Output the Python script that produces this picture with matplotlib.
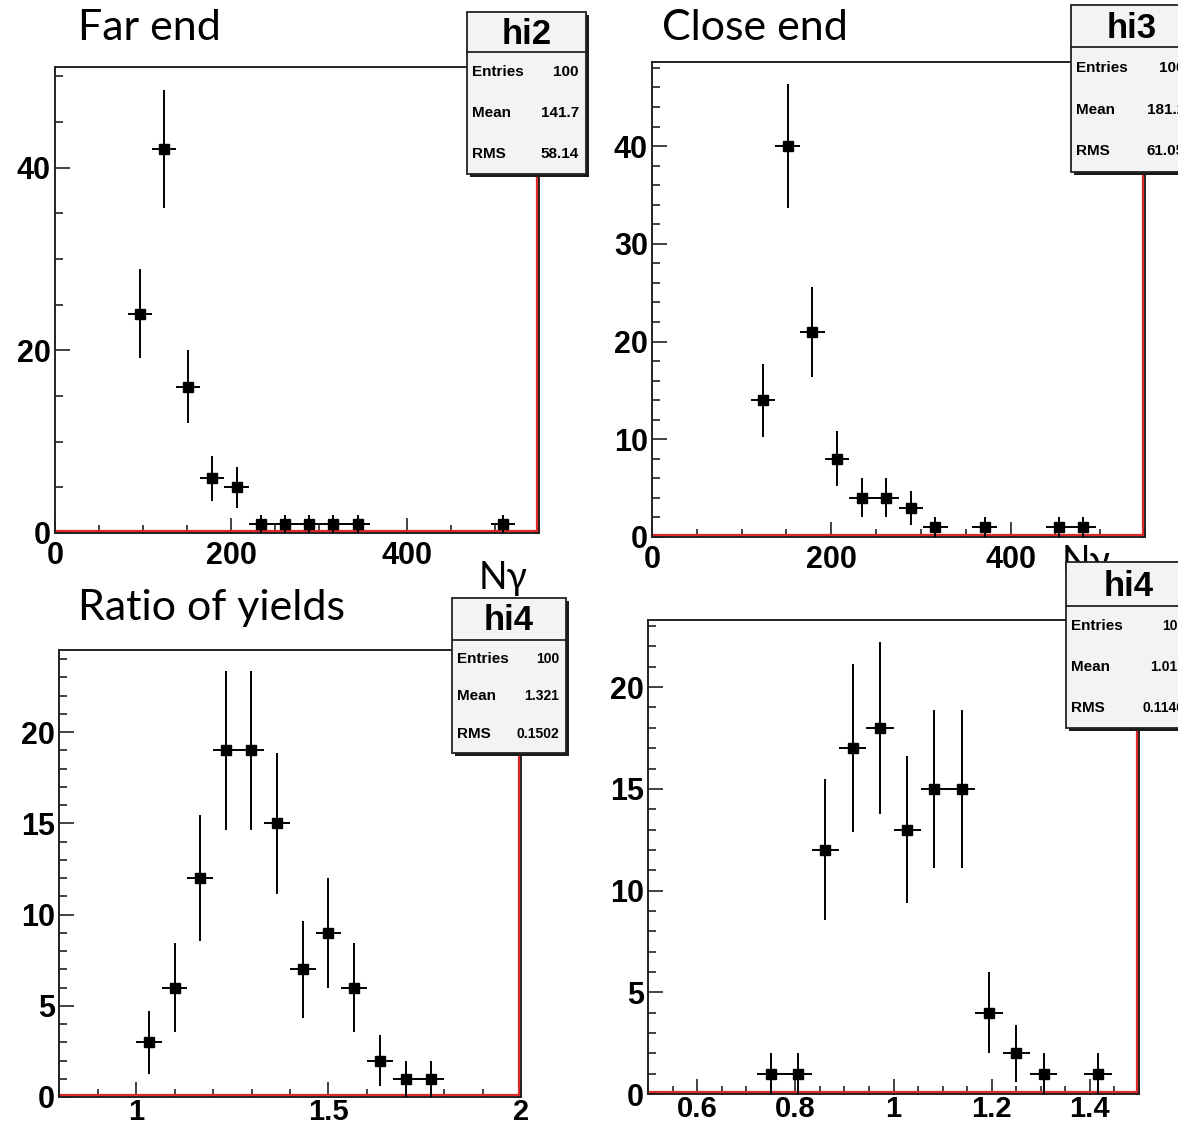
import numpy as np
import matplotlib
matplotlib.use('Agg')
import matplotlib.pyplot as plt
from matplotlib.ticker import MultipleLocator
from matplotlib.patches import Rectangle
from matplotlib.lines import Line2D
from matplotlib.transforms import offset_copy

W, H = 1178, 1129

# histogram contents (bin counts)
far_counts = [0, 0, 0, 24, 42, 16, 6, 5, 1, 1, 1, 1, 1, 0, 0, 0, 0, 0, 1, 0]
close_counts = [0, 0, 0, 0, 14, 40, 21, 8, 4, 4, 3, 1, 0, 1, 0, 0, 1, 1, 0, 0]
ratio_counts = [0, 0, 0, 3, 6, 12, 19, 19, 15, 7, 9, 6, 2, 1, 1, 0, 0, 0]
ratio2_counts = [0, 0, 0, 0, 1, 1, 12, 17, 18, 13, 15, 15, 4, 2, 1, 0, 1, 0]

far_range = (0, 550)
close_range = (0, 550)
ratio_range = (0.8, 2.0)
ratio2_range = (0.5, 1.5)

titles = ['Far end', 'Close end', 'Ratio of yields']
stat_names = ['hi2', 'hi3', 'hi4', 'hi4']
stat_entries = ['100', '100', '100', '100']
stat_mean = ['141.7', '181.2', '1.321', '1.017']
stat_rms = ['58.14', '61.05', '0.1502', '0.1146']

fig = plt.figure(figsize=(W / 100, H / 100), dpi=100)

TXT = ['Lato', 'Open Sans', 'DejaVu Sans']
NUM = 'Liberation Sans'


def px_axes(l, t, r, b):
    return fig.add_axes([l / W, 1 - b / H, (r - l) / W, (b - t) / H])


def fx(x):
    return x / W


def fy(y):
    return 1 - y / H


def hist_panel(ax, counts, rng, ymax, xmaj, xmin, ymaj, ymin, xpad):
    counts = np.array(counts, dtype=float)
    edges = np.linspace(rng[0], rng[1], len(counts) + 1)
    centers = 0.5 * (edges[:-1] + edges[1:])
    half = 0.5 * (edges[1] - edges[0])
    m = counts > 0
    ax.errorbar(centers[m], counts[m], yerr=np.sqrt(counts[m]), xerr=half,
                fmt='s', color='black', ms=6.5, elinewidth=1.4, capsize=0,
                clip_on=False, zorder=3)
    ax.set_xlim(*rng)
    ax.set_ylim(0, ymax)
    ax.xaxis.set_major_locator(MultipleLocator(xmaj))
    ax.xaxis.set_minor_locator(MultipleLocator(xmin))
    ax.yaxis.set_major_locator(MultipleLocator(ymaj))
    ax.yaxis.set_minor_locator(MultipleLocator(ymin))
    ax.tick_params(which='both', direction='in', top=False, right=False,
                   color='#222222', width=1.2)
    ax.tick_params(which='major', length=10.5)
    ax.tick_params(which='minor', length=6)
    ax.tick_params(axis='x', pad=xpad)
    ax.tick_params(axis='y', pad=3)
    for lab in ax.get_xticklabels() + ax.get_yticklabels():
        lab.set_fontfamily(NUM)
        lab.set_fontweight('bold')
        lab.set_fontsize(22)
    for s in ax.spines:
        ax.spines[s].set_color('#222222')
        ax.spines[s].set_linewidth(1.4)
    # red histogram outline just inside the bottom and right frame
    tr_up = offset_copy(ax.transAxes, fig=fig, x=0, y=1.6, units='dots')
    tr_left = offset_copy(ax.transAxes, fig=fig, x=-1.6, y=0, units='dots')
    ax.add_line(Line2D([0, 1], [0, 0], transform=tr_up, color='#e02828',
                       lw=1.6, clip_on=False, zorder=2))
    ax.add_line(Line2D([1, 1], [0, 1], transform=tr_left, color='#e02828',
                       lw=1.6, clip_on=False, zorder=2))
    ax.patch.set_alpha(0)


def fmt_tick(v, pos):
    if abs(v - round(v)) < 1e-9:
        return '%d' % round(v)
    return ('%.1f' % v)


ax1 = px_axes(55, 67, 539, 533)
hist_panel(ax1, far_counts, far_range, 51, 200, 50, 20, 5, 6)
ax2 = px_axes(652, 62, 1145, 537)
hist_panel(ax2, close_counts, close_range, 48.6, 200, 50, 10, 2, 6)
ax3 = px_axes(59, 650, 521, 1097)
hist_panel(ax3, ratio_counts, ratio_range, 24.5, 0.5, 0.1, 5, 1, 1)
ax4 = px_axes(648, 620, 1139, 1094)
hist_panel(ax4, ratio2_counts, ratio2_range, 23.3, 0.2, 0.05, 5, 1, 1)
for ax in [ax3, ax4]:
    ax.xaxis.set_major_formatter(plt.FuncFormatter(fmt_tick))
    for lab in ax.get_xticklabels():
        lab.set_fontsize(21)

# titles and axis captions
fig.text(fx(78), fy(28), titles[0], family=TXT, fontsize=31, va='center', ha='left')
fig.text(fx(662), fy(28), titles[1], family=TXT, fontsize=31, va='center', ha='left')
fig.text(fx(78), fy(608), titles[2], family=TXT, fontsize=31, va='center', ha='left')
fig.text(fx(503), fy(578), 'Nγ', family=TXT, fontsize=27, va='center', ha='center', zorder=5)
fig.text(fx(1086), fy(562), 'Nγ', family=TXT, fontsize=27, va='center', ha='center', zorder=5)


def stat_box(l, t, r, b, th, name, entries, mean, rms, vfs):
    sh = Rectangle((fx(l + 3), fy(b + 3)), (r - l) / W, (b - t) / H,
                   transform=fig.transFigure, facecolor='#1a1a1a',
                   edgecolor='none', zorder=9)
    bx = Rectangle((fx(l), fy(b)), (r - l) / W, (b - t) / H,
                   transform=fig.transFigure, facecolor='#f3f3f3',
                   edgecolor='#222222', linewidth=1.3, zorder=10)
    fig.patches.extend([sh, bx])
    fig.lines.append(Line2D([fx(l), fx(r)], [fy(t + th), fy(t + th)],
                            transform=fig.transFigure, color='#222222',
                            lw=1.3, zorder=11))
    fig.text(fx((l + r) / 2), fy(t + th / 2 + 2), name, family=NUM,
             fontweight='bold', fontsize=25, ha='center', va='center', zorder=12)
    step = (b - t - th) / 3.0
    for i, (lab, val) in enumerate([('Entries', entries), ('Mean', mean), ('RMS', rms)]):
        yy = t + th + (i + 0.5) * step
        fig.text(fx(l + 5), fy(yy), lab, family=NUM, fontweight='bold',
                 fontsize=11, ha='left', va='center', zorder=12)
        fig.text(fx(r - 7), fy(yy), val, family=NUM, fontweight='bold',
                 fontsize=vfs, ha='right', va='center', zorder=12)


stat_box(467, 12, 586, 174, 40, stat_names[0], stat_entries[0], stat_mean[0], stat_rms[0], 11)
stat_box(1071, 5, 1192, 172, 42, stat_names[1], stat_entries[1], stat_mean[1], stat_rms[1], 11)
stat_box(452, 598, 566, 753, 42, stat_names[2], stat_entries[2], stat_mean[2], stat_rms[2], 10)
stat_box(1066, 562, 1192, 728, 44, stat_names[3], stat_entries[3], stat_mean[3], stat_rms[3], 10)

fig.savefig('out.png', dpi=100)
